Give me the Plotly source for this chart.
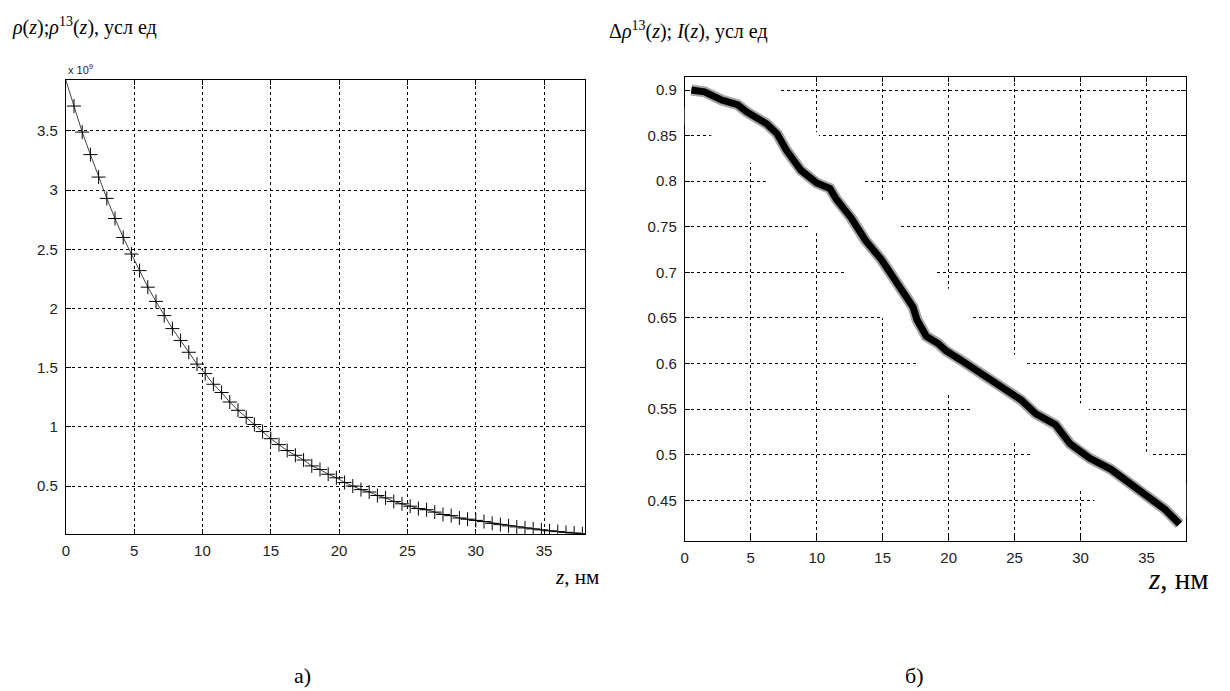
import plotly.graph_objects as go

# ---- panel a) data (values in units of 1e9) ----
rho_line_z = [0.0, 38.0]
rho_z = [0.6 * k for k in range(1, 64)]
rho_vals = [3.71, 3.49, 3.30, 3.11, 2.93, 2.76, 2.60, 2.46, 2.32, 2.18,
            2.06, 1.94, 1.83, 1.73, 1.63, 1.53, 1.45, 1.36, 1.29, 1.21,
            1.14, 1.08, 1.02, 0.96, 0.90, 0.85, 0.80, 0.76, 0.72, 0.67,
            0.64, 0.60, 0.57, 0.53, 0.50, 0.47, 0.45, 0.42, 0.40, 0.37,
            0.35, 0.33, 0.31, 0.30, 0.28, 0.26, 0.25, 0.23, 0.22, 0.21,
            0.20, 0.185, 0.174, 0.164, 0.155, 0.146, 0.138, 0.130, 0.122,
            0.115, 0.109, 0.103, 0.097]
rho_start = 3.93
rho_end = 0.095

# ---- panel б) data ----
d_z = [0.5, 1.5, 2.8, 4.0, 4.7, 5.5, 6.2, 7.0, 7.7, 8.8, 10.0, 11.0, 11.5,
       12.6, 13.7, 14.9, 16.0, 16.8, 17.3, 17.6, 18.3, 19.2, 19.8, 20.9,
       22.4, 23.9, 25.5, 26.6, 27.4, 28.1, 29.2, 30.7, 32.3, 33.8, 35.3,
       36.4, 37.5]
d_vals = [0.900, 0.898, 0.889, 0.884, 0.876, 0.870, 0.863, 0.852, 0.834,
          0.812, 0.798, 0.792, 0.780, 0.760, 0.735, 0.714, 0.690, 0.672,
          0.662, 0.648, 0.630, 0.622, 0.614, 0.604, 0.590, 0.577, 0.560,
          0.545, 0.538, 0.533, 0.512, 0.496, 0.484, 0.468, 0.452, 0.440,
          0.424]

x_ticks = [0, 5, 10, 15, 20, 25, 30, 35]
ya_ticks = [0.5, 1, 1.5, 2, 2.5, 3, 3.5]
ya_text = ["0.5", "1", "1.5", "2", "2.5", "3", "3.5"]
yb_ticks = [0.45, 0.5, 0.55, 0.6, 0.65, 0.7, 0.75, 0.8, 0.85, 0.9]
yb_text = ["0.45", "0.5", "0.55", "0.6", "0.65", "0.7", "0.75", "0.8", "0.85", "0.9"]

W, H = 1230, 691
fig = go.Figure()

# panel a
fig.add_trace(go.Scatter(x=[rho_line_z[0]] + rho_z + [rho_line_z[1]],
                         y=[rho_start] + rho_vals + [rho_end],
                         mode="lines", line=dict(color="#444", width=1),
                         xaxis="x", yaxis="y", showlegend=False))
fig.add_trace(go.Scatter(x=rho_z, y=rho_vals, mode="markers",
                         marker=dict(symbol="cross-thin", size=10,
                                     line=dict(color="black", width=1)),
                         xaxis="x", yaxis="y", showlegend=False))

# panel b: white halo, soft edge, thick black line
fig.add_trace(go.Scatter(x=d_z, y=d_vals, mode="lines",
                         line=dict(color="white", width=70),
                         xaxis="x2", yaxis="y2", showlegend=False))
fig.add_trace(go.Scatter(x=d_z, y=d_vals, mode="lines",
                         line=dict(color="rgba(0,0,0,0.35)", width=11),
                         xaxis="x2", yaxis="y2", showlegend=False))
fig.add_trace(go.Scatter(x=d_z, y=d_vals, mode="lines",
                         line=dict(color="black", width=7),
                         xaxis="x2", yaxis="y2", showlegend=False))

tickfont = dict(family="Liberation Sans", size=15, color="#222")
common = dict(showline=True, linecolor="black", linewidth=1, mirror="ticks",
              ticks="inside", ticklen=5, tickcolor="black",
              showgrid=True, gridcolor="black", gridwidth=1, griddash="3px,3px",
              zeroline=False, tickfont=tickfont)

fig.update_layout(
    width=W, height=H, margin=dict(l=0, r=0, t=0, b=0),
    paper_bgcolor="white", plot_bgcolor="white",
    xaxis=dict(domain=[62 / W, 583 / W], range=[0, 38], tickvals=x_ticks,
               anchor="y", ticklabelstandoff=3, **common),
    yaxis=dict(domain=[1 - 534 / H, 1 - 80 / H], range=[rho_end, rho_start],
               tickvals=ya_ticks, ticktext=ya_text, anchor="x",
               ticklabelstandoff=4, **common),
    xaxis2=dict(domain=[683 / W, 1186 / W], range=[0, 38], tickvals=x_ticks,
                anchor="y2", layer="below traces", ticklabelstandoff=3, **common),
    yaxis2=dict(domain=[1 - 541 / H, 1 - 77 / H], range=[0.4054, 0.9143],
                tickvals=yb_ticks, ticktext=yb_text, anchor="x2",
                layer="below traces", ticklabelstandoff=4, **common),
)

serif = "Liberation Serif"
ann = [
    dict(text="<i>ρ</i>(<i>z</i>);<i>ρ</i><sup>13</sup>(<i>z</i>), усл ед",
         x=6 / W, y=1 - 27 / H, xanchor="left", yanchor="middle",
         font=dict(family=serif, size=20, color="black")),
    dict(text="x 10<sup>9</sup>", x=62 / W, y=1 - 69 / H, xanchor="left",
         yanchor="middle", font=dict(family="Liberation Sans", size=11, color="#222")),
    dict(text="<i>z</i>, нм", x=551 / W, y=1 - 577 / H, xanchor="left",
         yanchor="middle", font=dict(family=serif, size=21, color="black")),
    dict(text="Δ<i>ρ</i><sup>13</sup>(<i>z</i>); <i>I</i>(<i>z</i>), усл ед",
         x=605 / W, y=1 - 30 / H, xanchor="left", yanchor="middle",
         font=dict(family=serif, size=20, color="black")),
    dict(text="<i>z</i>, нм", x=1146 / W, y=1 - 579 / H, xanchor="left",
         yanchor="middle", font=dict(family=serif, size=29, color="black")),
    dict(text="а)", x=299 / W, y=1 - 675 / H, xanchor="center", yanchor="middle",
         font=dict(family=serif, size=22, color="black")),
    dict(text="б)", x=913 / W, y=1 - 675 / H, xanchor="center", yanchor="middle",
         font=dict(family=serif, size=22, color="black")),
]
for a in ann:
    a.update(xref="paper", yref="paper", showarrow=False)
fig.update_layout(annotations=ann)

fig.write_html("out.html", config={"displayModeBar": False},
               post_script="document.body.style.margin='0';document.body.style.overflow='hidden';")
